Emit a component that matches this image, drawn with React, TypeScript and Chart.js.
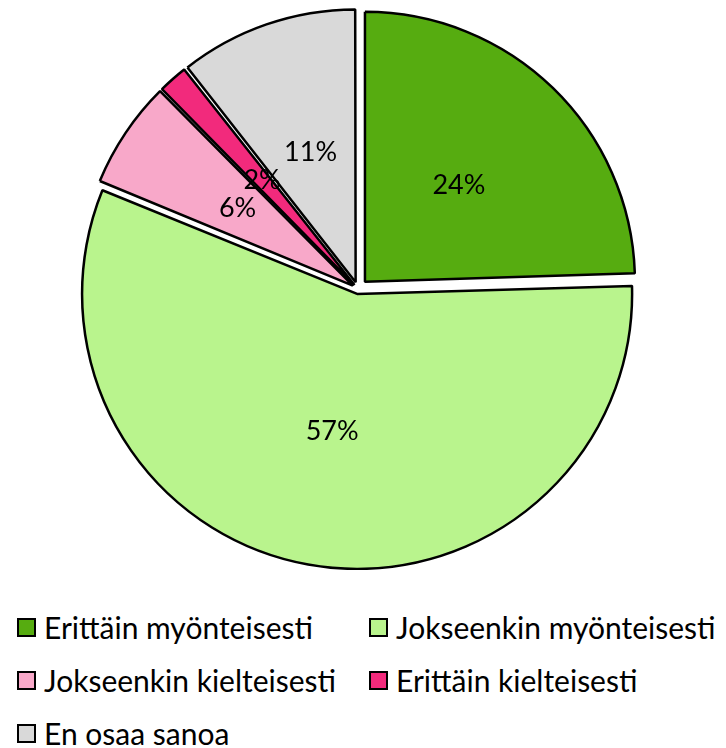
import React, { useEffect, useRef } from "react";
import { Chart, registerables } from "chart.js";

Chart.register(...registerables);

const categories = [
  "Erittäin myönteisesti",
  "Jokseenkin myönteisesti",
  "Jokseenkin kielteisesti",
  "Erittäin kielteisesti",
  "En osaa sanoa",
];
const values = [24.5, 56.7, 6.4, 1.8, 10.6];
const valueLabels = ["24%", "57%", "6%", "2%", "11%"];
const colors = ["#56AC10", "#B9F48D", "#F8A8C9", "#F22A7C", "#D9D9D9"];

// legend grid: [row, column] for each category
const legendRows = [0, 0, 1, 1, 2];
const legendCols = [0, 1, 0, 1, 0];

const EXPLODE = 10; // px translation of each slice

const FONT = "Lato, 'Open Sans', sans-serif";

const labelPlugin = {
  id: "sliceLabels",
  afterDatasetsDraw(chart: any) {
    const { ctx } = chart;
    const meta = chart.getDatasetMeta(0);
    ctx.save();
    ctx.fillStyle = "#000";
    ctx.font = `27px ${FONT}`;
    ctx.textAlign = "center";
    ctx.textBaseline = "middle";
    meta.data.forEach((arc: any, i: number) => {
      const p = arc.getProps(["x", "y", "startAngle", "endAngle", "outerRadius", "innerRadius"], true);
      const mid = (p.startAngle + p.endAngle) / 2;
      const r = (p.outerRadius + p.innerRadius) / 2 + EXPLODE;
      ctx.fillText(valueLabels[i], p.x + Math.cos(mid) * r, p.y + Math.sin(mid) * r);
    });
    ctx.restore();
  },
};

export default function App() {
  const ref = useRef<HTMLCanvasElement>(null);
  useEffect(() => {
    document.documentElement.style.overflow = "hidden";
    const total = values.reduce((a, b) => a + b, 0);
    const chart = new Chart(ref.current!, {
      type: "pie",
      data: {
        labels: categories,
        datasets: [
          {
            data: values,
            backgroundColor: colors,
            borderColor: "#000",
            borderWidth: 2.5,
            radius: 270,
            offset: (c: any) => {
              const v = values[c.dataIndex] ?? 0;
              const circ = (v / total) * Math.PI * 2;
              const fix = 1 - Math.sin(Math.min(Math.PI, circ));
              return (EXPLODE * 4) / (1 + fix);
            },
          } as any,
        ],
      },
      options: {
        responsive: false,
        animation: false,
        layout: { padding: { left: 0, right: 10, top: 0, bottom: 0 } },
        plugins: {
          legend: { display: false },
          tooltip: { enabled: false },
        },
      },
      plugins: [labelPlugin],
    });
    return () => chart.destroy();
  }, []);

  return (
    <div style={{ position: "relative", width: 710, height: 740 }}>
      <canvas ref={ref} width={710} height={562} style={{ display: "block" }} />
      {categories.map((c, i) => (
        <div
          key={c}
          style={{
            position: "absolute",
            left: legendCols[i] === 0 ? 9 : 361,
            top: 604 + legendRows[i] * 53,
            height: 30,
            display: "flex",
            alignItems: "center",
            fontFamily: FONT,
            fontSize: 30,
            color: "#000",
            whiteSpace: "nowrap",
          }}
        >
          <span
            style={{
              display: "inline-block",
              width: 15,
              height: 15,
              background: colors[i],
              border: "2px solid #000",
              marginRight: 8,
            }}
          />
          <span>{c}</span>
        </div>
      ))}
    </div>
  );
}
